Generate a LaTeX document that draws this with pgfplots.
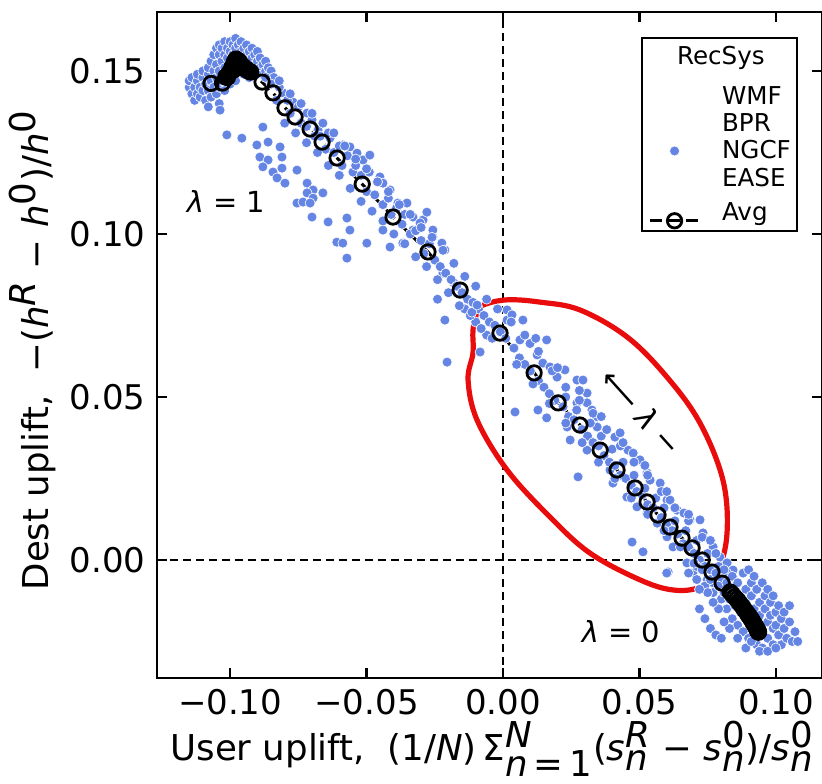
\documentclass[border=0pt]{standalone}
\usepackage{fontspec}
\setmainfont{DejaVu Sans}
\usepackage{pgfplots}
\pgfplotsset{compat=1.18}
\definecolor{ptblue}{RGB}{100,133,228}
\definecolor{annred}{RGB}{232,12,12}
\pgfplotsset{scatterleg/.style={legend image code/.code={\draw[mark repeat=2,mark phase=2,##1] plot coordinates {(0bp,4bp)(12.5bp,4bp)(25bp,4bp)};}}}
\begin{document}
\begin{tikzpicture}
\begin{axis}[
  scale only axis, width=332.5bp, height=333bp,
  xmin=-0.1268, xmax=0.1169, ymin=-0.0362, ymax=0.1681,
  axis line style={line width=1.2bp},
  tick align=inside, tick pos=both, major tick length=5bp,
  tick style={line width=1.1bp, black},
  xtick={-0.1,-0.05,0,0.05,0.1}, xticklabels={−0.10,−0.05,0.00,0.05,0.10},
  ytick={0,0.05,0.1,0.15}, yticklabels={0.00,0.05,0.10,0.15},
  ticklabel style={font=\fontsize{17bp}{20bp}\selectfont},
  yticklabel style={xshift=-2.3bp},
  xticklabel style={yshift=-2bp},
  scaled ticks=false,
  label style={font=\fontsize{17.8bp}{20bp}\selectfont, inner sep=0pt},
  xlabel style={at={(axis description cs:0.504,0)}, anchor=base, yshift=-41bp},
  ylabel style={at={(axis description cs:-0.1639,0.4925)}, anchor=base},
  xlabel={User uplift,\ \ (1/\textit{N})\,Σ$^{\textit{N}}_{\textit{n}\textup{\,=\,}\textup{1}}$(\textit{s}$^{\textit{R}}_{\textit{n}}$ − \textit{s}$^{\textup{0}}_{\textit{n}}$)/\textit{s}$^{\textup{0}}_{\textit{n}}$},
  ylabel={Dest uplift,\ \ −(\textit{h}$^{\textit{R}}$ − \textit{h}$^{\textup{0}}$)/\textit{h}$^{\textup{0}}$},
  legend style={at={(0.964,0.9625)}, anchor=north east, draw=black, line width=1.2bp,
    font=\fontsize{12.3bp}{13.7bp}\selectfont, cells={anchor=base west}, nodes={inner sep=0pt},
    inner xsep=3bp, inner ysep=0pt, row sep=0pt,
    /tikz/every odd column/.append style={column sep=10.5bp}},
  legend image code/.code={\draw[mark repeat=2,mark phase=2,#1] plot coordinates {(0bp,0bp)(12.5bp,0bp)(25bp,0bp)};},
]
\coordinate (sw) at (rel axis cs:0,0);
\coordinate (ne) at (rel axis cs:1,1);
\addlegendimage{empty legend}
\addlegendentry[text height=13bp, text depth=10bp]{\hspace*{-22.5bp}RecSys}
\addlegendimage{empty legend}
\addlegendentry[text height=10bp, text depth=3.7bp]{WMF}
\addlegendimage{empty legend}
\addlegendentry[text height=10bp, text depth=3.7bp]{BPR}

\addplot[black, line width=0.9bp, dash pattern=on 4bp off 2.5bp, forget plot] coordinates {(0,-0.0362) (0,0.1681)};
\addplot[black, line width=0.9bp, dash pattern=on 4bp off 2.5bp, forget plot] coordinates {(-0.1268,0) (0.1169,0)};

\addplot[only marks, mark=*, mark size=2.5bp, mark options={fill=ptblue, draw=white, line width=0.3bp},
  scatterleg] coordinates {
(-0.115,0.145) (-0.115,0.147) (-0.114,0.143) (-0.114,0.148) (-0.113,0.145) (-0.113,0.141)
(-0.112,0.147) (-0.112,0.143) (-0.112,0.149) (-0.111,0.145) (-0.111,0.142)
(-0.110,0.148) (-0.110,0.144) (-0.110,0.150) (-0.109,0.146) (-0.109,0.141)
(-0.108,0.149) (-0.108,0.144) (-0.108,0.151) (-0.107,0.147) (-0.107,0.142) (-0.107,0.153)
(-0.106,0.150) (-0.106,0.145) (-0.106,0.155) (-0.105,0.148) (-0.105,0.143) (-0.105,0.152) (-0.105,0.157)
(-0.104,0.150) (-0.104,0.145) (-0.104,0.155) (-0.104,0.158) (-0.103,0.147) (-0.103,0.153) (-0.103,0.157)
(-0.102,0.151) (-0.102,0.155) (-0.102,0.159) (-0.102,0.144) (-0.101,0.149) (-0.101,0.154) (-0.101,0.157)
(-0.100,0.152) (-0.100,0.156) (-0.100,0.159) (-0.100,0.146) (-0.099,0.150) (-0.099,0.155) (-0.099,0.158)
(-0.098,0.153) (-0.098,0.157) (-0.098,0.160) (-0.098,0.147) (-0.097,0.150) (-0.097,0.155) (-0.097,0.158)
(-0.096,0.152) (-0.096,0.156) (-0.096,0.159) (-0.095,0.149) (-0.095,0.154) (-0.095,0.157)
(-0.094,0.151) (-0.094,0.155) (-0.094,0.158) (-0.093,0.153) (-0.093,0.156) (-0.093,0.148)
(-0.092,0.150) (-0.092,0.154) (-0.092,0.157) (-0.091,0.152) (-0.091,0.155)
(-0.090,0.149) (-0.090,0.153) (-0.090,0.156) (-0.089,0.151) (-0.089,0.154)
(-0.088,0.149) (-0.088,0.152) (-0.087,0.150) (-0.087,0.153) (-0.086,0.148) (-0.086,0.151)
(-0.085,0.150) (-0.084,0.148) (-0.108,0.139) (-0.104,0.140)
(-0.1037,0.1380) (-0.1012,0.1304) (-0.0957,0.1294) (-0.0880,0.1328) (-0.0902,0.1273) (-0.0861,0.1282)
(-0.0817,0.1267) (-0.0891,0.1236) (-0.0861,0.1227) (-0.0810,0.1236) (-0.0880,0.1206) (-0.0843,0.1190)
(-0.0810,0.1202) (-0.0828,0.1172) (-0.0799,0.1156) (-0.0755,0.1196) (-0.0718,0.1156) (-0.0696,0.1135)
(-0.0718,0.1126) (-0.0696,0.1110) (-0.0755,0.1095) (-0.0733,0.1098) (-0.0707,0.1095) (-0.0660,0.1126)
(-0.0700,0.1052) (-0.0641,0.1037) (-0.0609,0.0975) (-0.0572,0.1049) (-0.0561,0.1012) (-0.0499,0.0972)
(-0.0440,0.1012) (-0.0414,0.0960) (-0.0367,0.0972) (-0.0330,0.1012) (-0.0293,0.1043) (-0.0257,0.0991)
(-0.0587,0.0972) (-0.0572,0.0926) (-0.022,0.088) (-0.018,0.085) (-0.024,0.080) (-0.014,0.077)
(-0.010,0.073) (-0.0213,0.0736) (-0.0205,0.0607) (-0.0084,0.0638) (-0.006,0.069)
(-0.0806,0.1433) (-0.0770,0.1405) (-0.0718,0.1371) (-0.0678,0.1319) (-0.0634,0.1294) (-0.0587,0.1273)
(-0.0561,0.1267) (-0.0535,0.1248) (-0.0513,0.1227) (-0.0488,0.1242) (-0.0451,0.1175) (-0.0440,0.1156)
(-0.0414,0.1135) (-0.0385,0.1095) (-0.0352,0.1095) (-0.0330,0.1052) (-0.0304,0.1034) (-0.0279,0.1067)
(-0.0257,0.1012) (-0.0224,0.0972) (-0.0213,0.0951)
(-0.087,0.148) (-0.085,0.146) (-0.083,0.141) (-0.082,0.145) (-0.079,0.141) (-0.078,0.137) (-0.075,0.139)
(-0.074,0.134) (-0.072,0.133) (-0.070,0.135) (-0.069,0.130) (-0.067,0.130) (-0.065,0.126) (-0.064,0.131)
(-0.062,0.125) (-0.060,0.127) (-0.059,0.121) (-0.057,0.124) (-0.055,0.119) (-0.054,0.121) (-0.052,0.118)
(-0.050,0.113) (-0.049,0.119) (-0.047,0.112) (-0.046,0.116) (-0.044,0.109) (-0.042,0.111) (-0.041,0.106)
(-0.039,0.108) (-0.037,0.103) (-0.036,0.106) (-0.034,0.100) (-0.032,0.101) (-0.030,0.098) (-0.029,0.094)
(-0.027,0.097) (-0.025,0.092) (-0.023,0.090) (-0.021,0.088) (-0.019,0.086) (-0.017,0.084) (-0.015,0.082)
(-0.013,0.080) (-0.011,0.079) (-0.009,0.077) (-0.007,0.075) (-0.005,0.073) (-0.003,0.072) (-0.001,0.070) (0.001,0.068)
(-0.082,0.147) (-0.078,0.143) (-0.074,0.140) (-0.070,0.137) (-0.066,0.134) (-0.062,0.131) (-0.058,0.127)
(-0.054,0.123) (-0.050,0.120) (-0.046,0.116) (-0.042,0.113) (-0.038,0.109) (-0.034,0.106) (-0.030,0.102)
(-0.026,0.099) (-0.022,0.095) (-0.018,0.091) (-0.014,0.087) (-0.010,0.084) (-0.006,0.080) (-0.002,0.077)
(-0.080,0.134) (-0.076,0.131) (-0.072,0.128) (-0.068,0.125) (-0.064,0.121) (-0.060,0.118) (-0.056,0.114)
(-0.052,0.110) (-0.048,0.107) (-0.044,0.104) (-0.040,0.100) (-0.036,0.097) (-0.032,0.093) (-0.028,0.090)
(-0.024,0.086) (-0.020,0.082) (-0.016,0.078) (-0.012,0.075) (-0.008,0.071) (-0.004,0.068)
(-0.0114,0.0760) (-0.0095,0.0782) (0.0015,0.0767) (0.0015,0.0736) (0.0033,0.0752) (0.0073,0.0736)
(0.0062,0.0675) (0.0099,0.0664) (0.0160,0.0675) (0.0125,0.0629) (0.0146,0.0604) (0.0172,0.0592)
(0.0198,0.0561) (0.0227,0.0583) (0.0271,0.0552) (0.0293,0.0552) (0.0308,0.0512) (0.0271,0.0482)
(0.0308,0.0482) (0.0326,0.0460) (0.0345,0.0439) (0.0345,0.0408) (0.0381,0.0399) (0.0410,0.0377)
(0.0429,0.0390) (0.0440,0.0359) (0.0458,0.0337) (0.0477,0.0328) (0.0502,0.0307) (0.0528,0.0267)
(0.0539,0.0245) (0.0576,0.0236) (0.0601,0.0184) (0.0612,0.0184) (0.0638,0.0153) (0.0663,0.0144)
(0.0685,0.0123) (0.0722,0.0123) (0.0733,0.0083) (0.0759,0.0061) (0.0770,0.0040) (0.0795,0.0009)
(0.0821,-0.0009) (0.0843,-0.0031)
(0.0044,0.0454) (0.0128,0.0460) (0.0160,0.0436) (0.0235,0.0408) (0.0246,0.0368) (0.0308,0.0337)
(0.0392,0.0276) (0.0403,0.0236) (0.0454,0.0193) (0.0491,0.0163) (0.0528,0.0144) (0.0565,0.0113)
(0.0601,0.0071) (0.0623,0.0040) (0.0674,-0.0009) (0.0696,-0.0040) (0.0748,-0.0061) (0.0275,0.0255)
(0.0473,0.0055) (0.0513,0.0025) (0.0605,-0.0037)
(0.004,0.065) (0.006,0.062) (0.008,0.060) (0.010,0.058) (0.013,0.055) (0.015,0.053) (0.017,0.051)
(0.019,0.049) (0.022,0.047) (0.024,0.044) (0.026,0.043) (0.029,0.040) (0.031,0.038) (0.033,0.036)
(0.035,0.035) (0.037,0.032) (0.039,0.030) (0.041,0.029) (0.043,0.026) (0.045,0.025) (0.047,0.023)
(0.049,0.021) (0.051,0.020) (0.053,0.017) (0.055,0.016) (0.058,0.013) (0.060,0.011) (0.062,0.009)
(0.064,0.008) (0.066,0.005) (0.068,0.004) (0.070,0.002) (0.072,0.000) (0.074,-0.002) (0.076,-0.003)
(0.078,-0.005) (0.080,-0.006) (0.023,0.050) (0.027,0.046) (0.032,0.042) (0.036,0.038) (0.040,0.034)
(0.044,0.030) (0.048,0.026) (0.052,0.022) (0.056,0.019) (0.059,0.016) (0.063,0.012) (0.067,0.009)
(0.071,0.006) (0.075,0.002) (0.079,-0.002) (0.082,-0.004)
(0.003,0.073) (0.008,0.069) (0.013,0.064) (0.018,0.058) (0.023,0.053) (0.028,0.049) (0.033,0.045)
(0.038,0.040) (0.043,0.035) (0.048,0.030) (0.053,0.026) (0.058,0.021) (0.063,0.016) (0.068,0.012)
(0.073,0.007) (0.078,0.002) (0.012,0.068) (0.020,0.059) (0.028,0.052) (0.036,0.044) (0.044,0.036)
(0.052,0.029) (0.060,0.021) (0.068,0.014) (0.076,0.006)
(0.005,0.060) (0.011,0.054) (0.017,0.048) (0.023,0.042) (0.029,0.036) (0.035,0.030) (0.041,0.025)
(0.047,0.019) (0.053,0.014) (0.059,0.009) (0.065,0.004) (0.071,-0.002) (0.077,-0.007)
(0.068,-0.004) (0.071,-0.006) (0.073,-0.003) (0.074,-0.008) (0.076,-0.006) (0.077,-0.010) (0.078,-0.004)
(0.079,-0.008) (0.080,-0.012) (0.081,-0.003) (0.081,-0.010) (0.082,-0.015) (0.082,-0.007) (0.083,-0.012)
(0.084,-0.018) (0.084,-0.005) (0.085,-0.009) (0.085,-0.014) (0.086,-0.020) (0.086,-0.007) (0.087,-0.011)
(0.087,-0.016) (0.088,-0.022) (0.088,-0.004) (0.089,-0.009) (0.089,-0.013) (0.090,-0.018) (0.090,-0.024)
(0.091,-0.007) (0.091,-0.011) (0.092,-0.015) (0.092,-0.020) (0.093,-0.026) (0.093,-0.009) (0.094,-0.013)
(0.094,-0.017) (0.095,-0.022) (0.095,-0.027) (0.096,-0.011) (0.096,-0.015) (0.097,-0.019) (0.097,-0.024)
(0.098,-0.013) (0.098,-0.017) (0.099,-0.021) (0.099,-0.026) (0.100,-0.016) (0.100,-0.020) (0.101,-0.023)
(0.102,-0.018) (0.102,-0.026) (0.103,-0.021) (0.104,-0.024) (0.105,-0.019) (0.106,-0.025) (0.107,-0.022)
(0.108,-0.025) (0.083,-0.021) (0.086,-0.024) (0.089,-0.027) (0.091,-0.025) (0.094,-0.028) (0.097,-0.028)
(0.100,-0.027) (0.079,-0.015) (0.081,-0.019) (0.077,-0.013) (0.075,-0.010) (0.072,-0.009) (0.070,-0.001)
(0.090,-0.003) (0.092,-0.005) (0.095,-0.007) (0.097,-0.009) (0.099,-0.011) (0.101,-0.014) (0.103,-0.016)
(0.105,-0.014) (0.072,-0.015) (0.074,-0.018) (0.076,-0.021) (0.078,-0.023) (0.080,-0.024) (0.060,-0.004)
};
\addlegendentry[text height=10bp, text depth=3.7bp]{NGCF}
\addlegendimage{empty legend}
\addlegendentry[text height=10bp, text depth=3.7bp]{EASE}

\addplot[black, line width=1.5bp, dash pattern=on 6bp off 3bp, mark=o, mark size=3.6bp,
  mark options={solid, line width=1.4bp, fill=none}] coordinates {
(-0.1070,0.1462) (-0.1028,0.1463) (-0.1010,0.1480) (-0.0995,0.1500) (-0.0985,0.1520) (-0.0978,0.1535)
(-0.0968,0.1530) (-0.0955,0.1515) (-0.0940,0.1505) (-0.0925,0.1497)
(-0.0883,0.1466) (-0.0843,0.1433) (-0.0799,0.1387) (-0.0762,0.1359) (-0.0707,0.1322) (-0.0663,0.1282)
(-0.0608,0.1233) (-0.0516,0.1153) (-0.0403,0.1052) (-0.0275,0.0945) (-0.0157,0.0828) (-0.0011,0.0696)
(0.0114,0.0574) (0.0202,0.0482) (0.0282,0.0414) (0.0356,0.0337) (0.0418,0.0276) (0.0484,0.0221)
(0.0528,0.0178) (0.0568,0.0138) (0.0612,0.0101) (0.0656,0.0067) (0.0693,0.0037) (0.0730,0.0000)
(0.0766,-0.0037) (0.0803,-0.0071) (0.0832,-0.0098) (0.0840,-0.0105) (0.0848,-0.0113) (0.0856,-0.0120)
(0.0863,-0.0127) (0.0870,-0.0135) (0.0877,-0.0143) (0.0884,-0.0151) (0.0891,-0.0159) (0.0898,-0.0167)
(0.0905,-0.0175) (0.0911,-0.0183) (0.0917,-0.0191) (0.0923,-0.0199) (0.0928,-0.0207) (0.0932,-0.0214)
(0.0935,-0.0220)
};
\addlegendentry[text height=13.5bp, text depth=5bp]{Avg}

\addplot[only marks, mark=*, mark size=4.2bp, black, forget plot] coordinates {
(-0.1015,0.1482) (-0.1002,0.1495) (-0.0992,0.1512) (-0.0984,0.1527) (-0.0978,0.1536) (-0.0970,0.1530)
(-0.0962,0.1522) (-0.0952,0.1513) (-0.0942,0.1506) (-0.0932,0.1500) (-0.0985,0.1505) (-0.0970,0.1512)
(0.0900,-0.0170) (0.0910,-0.0182) (0.0918,-0.0194) (0.0926,-0.0205) (0.0932,-0.0214) (0.0936,-0.0221)
};

\draw[annred, line width=2.6bp] plot[smooth cycle, tension=0.6] coordinates {
(axis cs:-0.0073,0.0782) (axis cs:0.0015,0.0798) (axis cs:0.0136,0.0791) (axis cs:0.0282,0.0767)
(axis cs:0.0455,0.0684) (axis cs:0.0601,0.0561) (axis cs:0.0722,0.0420) (axis cs:0.0806,0.0245)
(axis cs:0.0821,0.0083) (axis cs:0.0788,-0.0031) (axis cs:0.0722,-0.0083) (axis cs:0.0623,-0.0092)
(axis cs:0.0502,-0.0061) (axis cs:0.0319,0.0021) (axis cs:0.0172,0.0132) (axis cs:0.0015,0.0276)
(axis cs:-0.0095,0.0429) (axis cs:-0.0128,0.0552) (axis cs:-0.0110,0.0635) (axis cs:-0.0110,0.0706)
(axis cs:-0.0095,0.0758)};

\node[font=\fontsize{14.5bp}{17bp}\selectfont] at (axis cs:-0.1015,0.1101) {{\itshape λ}\ =\ 1};
\node[font=\fontsize{14.5bp}{17bp}\selectfont] at (axis cs:0.0433,-0.0221) {{\itshape λ}\ =\ 0};
\node[font=\fontsize{15bp}{18bp}\selectfont, rotate=-48] at (axis cs:0.0508,0.0455) {⟵\ {\itshape λ}\ −};
\end{axis}
\pgfresetboundingbox
\path[use as bounding box] ([xshift=-78.5bp,yshift=-53bp]sw) rectangle ([yshift=6bp]ne);
\end{tikzpicture}
\end{document}
